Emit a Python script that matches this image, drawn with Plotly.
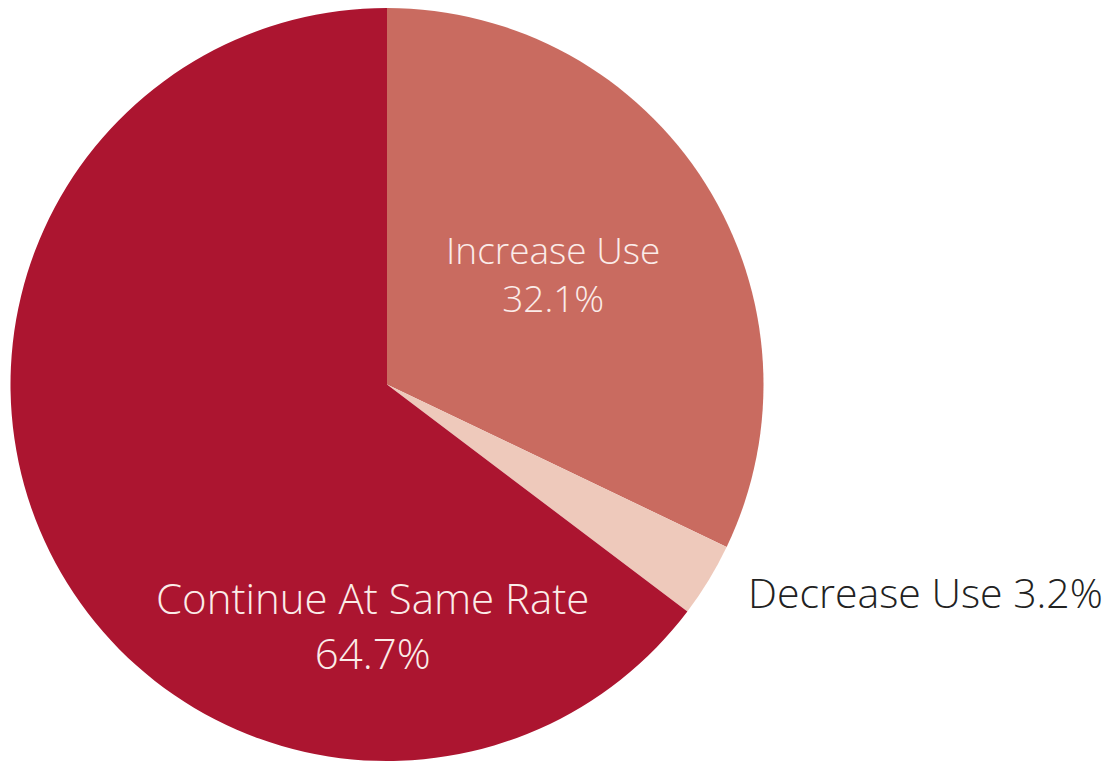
import plotly.graph_objects as go

labels = ["Increase Use", "Decrease Use", "Continue At Same Rate"]
values = [32.1, 3.2, 64.7]
colors = ["#C96B60", "#EEC9BB", "#AC1530"]

W, H = 1116, 761
cx, cy, r = 387, 384.5, 376.5

fig = go.Figure(go.Pie(
    labels=labels,
    values=values,
    sort=False,
    direction="clockwise",
    rotation=0,
    marker=dict(colors=colors, line=dict(width=0)),
    textinfo="none",
    hoverinfo="label+percent",
    showlegend=False,
    domain=dict(x=[(cx - r) / W, (cx + r) / W],
                y=[max(0.0, (H - (cy + r)) / H), min(1.0, (H - (cy - r)) / H)]),
))

FONT = "Open Sans"
def ann(text, x, y, color, size):
    fig.add_annotation(text=text, x=x / W, y=1 - (y - 1) / H, xref="paper", yref="paper",
                       showarrow=False, xanchor="center", yanchor="middle",
                       font=dict(family=FONT, size=size, color=color, weight=300), align="center")

light = "#FBECE9"
ann(f"{labels[0]}<br>{values[0]}%", 553, 274, light, 37)
ann(f"{labels[2]}<br>{values[2]}%", 372, 626, light, 42)
ann(f"{labels[1]} {values[1]}%", 925, 593, "#222222", 41)

fig.update_layout(width=W, height=H, margin=dict(l=0, r=0, t=0, b=0),
                  paper_bgcolor="white", plot_bgcolor="white")
fig.write_html("out.html")
